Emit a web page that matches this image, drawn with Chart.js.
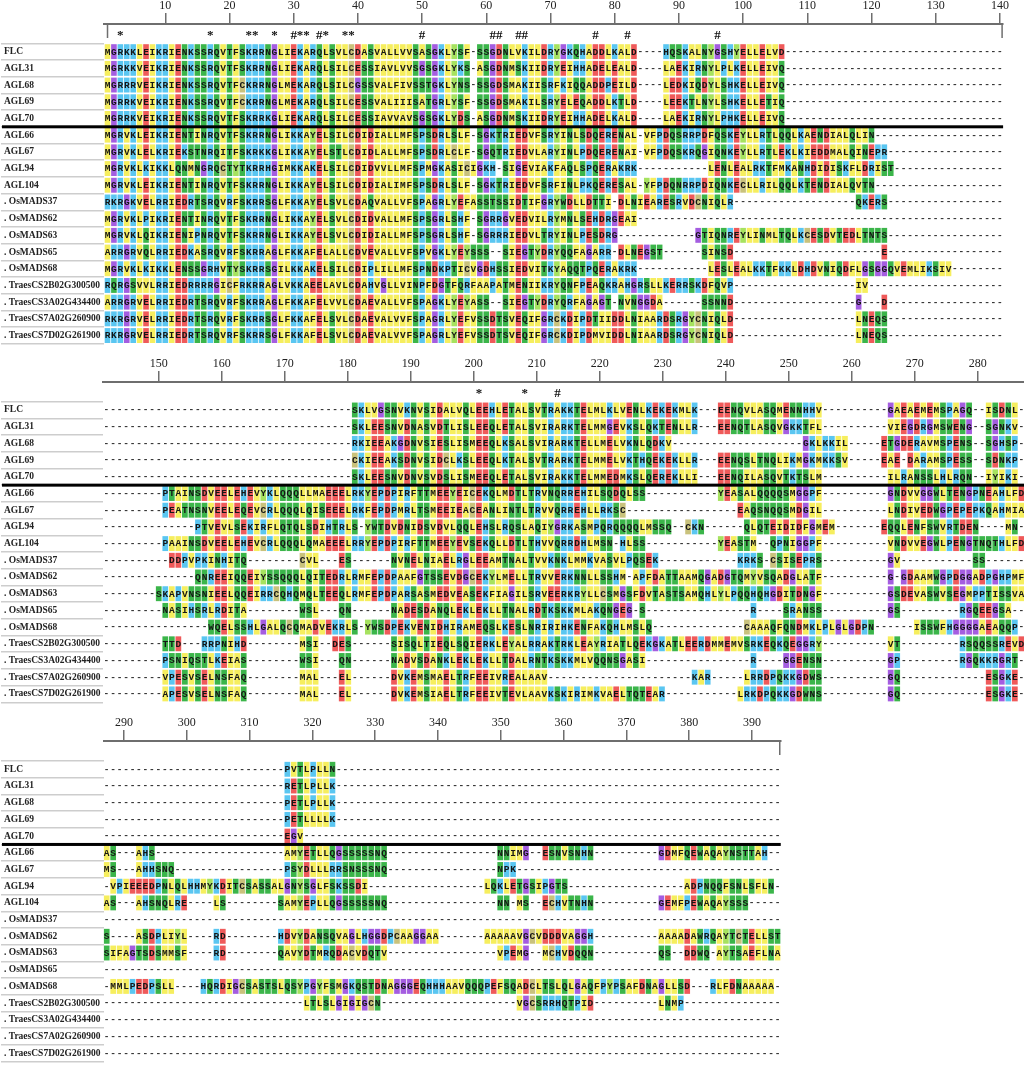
<!DOCTYPE html>
<html>
<head>
<meta charset="utf-8">
<script src="https://cdn.jsdelivr.net/npm/chart.js@4.4.1/dist/chart.umd.min.js"></script>
<style>
html, body { margin: 0; padding: 0; background: #fff; }
#wrap { position: relative; width: 1024px; height: 1065px; overflow: hidden; }
canvas { position: absolute; left: 0; }
</style>
</head>
<body>
<div id="wrap">
  <canvas id="block1" width="1024" height="350" style="top:0px"></canvas>
  <canvas id="block2" width="1024" height="350" style="top:358px"></canvas>
  <canvas id="block3" width="1024" height="348" style="top:717px"></canvas>
</div>
<script>
// sequence names (rows, same order in every block)
var names = ['FLC', 'AGL31', 'AGL68', 'AGL69', 'AGL70', 'AGL66', 'AGL67', 'AGL94', 'AGL104',
    '. OsMADS37', '. OsMADS62', '. OsMADS63', '. OsMADS65', '. OsMADS68',
    '. TraesCS2B02G300500', '. TraesCS3A02G434400', '. TraesCS7A02G260900', '. TraesCS7D02G261900'];

// ruler numbers above each block
var ruler1Ticks = [10, 20, 30, 40, 50, 60, 70, 80, 90, 100, 110, 120, 130, 140];
var ruler2Ticks = [150, 160, 170, 180, 190, 200, 210, 220, 230, 240, 250, 260, 270, 280];
var ruler3Ticks = [290, 300, 310, 320, 330, 340, 350, 360, 370, 380, 390];

// conservation marks: column in block, symbol
var marks1Cols = [2, 16, 22, 23, 26, 29, 30, 31, 33, 34, 37, 38, 49, 60, 61, 64, 65, 76, 81, 95];
var marks1Syms = ['*', '*', '*', '*', '*', '#', '*', '*', '#', '*', '*', '*', '#', '#', '#', '#', '#', '#', '#', '#'];
var marks2Cols = [57, 64, 69];
var marks2Syms = ['*', '*', '#'];
var marks3Cols = [];
var marks3Syms = [];

// aligned residues: [first column in block, residues]; every other column is a gap
var block1Rows = [
    [[0, 'MGRKKLEIKRIENKSSRQVTFSKRRNGLIEKARQLSVLCDASVALLVVSASGKLYSF-SSGDNLVKILDRYGKQHADDLKALD'], [87, 'HQSKALNYGSHYELLELVD']],
    [[0, 'MGRKKVEIKRIENKSSRQVTFSKRRNGLIEKARQLSILCESSIAVLVVSGSGKLYKS-ASGDNMSKIIDRYEIHHADELEALD'], [87, 'LAEKIRNYLPLKELLEIVQ']],
    [[0, 'MGRRRVEIKRIENKSSRQVTFCKRRNGLMEKARQLSILCGSSVALFIVSSTGKLYNS-SSGDSMAKIISRFKIQQADDPEILD'], [87, 'LEDKIQDYLSHKELLEIVQ']],
    [[0, 'MGRRKVEIKRIENKSSRQVTFCKRRNGLMEKARQLSILCESSVALIIISATGRLYSF-SSGDSMAKILSRYELEQADDLKTLD'], [87, 'LEEKTLNYLSHKELLETIQ']],
    [[0, 'MGRRKVEIKRIENKSSRQVTFSKRRKGLIEKARQLSILCESSIAVVAVSGSGKLYDS-ASGDNMSKIIDRYEIHHADELKALD'], [87, 'LAEKIRNYLPHKELLEIVQ']],
    [[0, 'MGRVKLEIKRIENTINRQVTFSKRRNGLIKKAYELSILCDIDIALLMFSPSDRLSLF-SGKTRIEDVFSRYINLSDQERENAL-VFPDQSRRPDFQSKEYLLRTLQQLKAENDIALQLIN']],
    [[0, 'MGRVKLELKRIEKSTNRQITFSKRKKGLIKKAYELSTLCDIDLALLMFSPSDRLCLF-SGQTRIEDVLARYINLPDQERENAI-VFPDQSKRQGIQNKEYLLRTLEKLKIEDDMALQINEPR']],
    [[0, 'MGRVKLKIKKLQNMNGRQCTYTKRRHGIMKKAKELSILCDIDVVLLMFSPMGKASICIGKH-SIGEVIAKFAQLSPQERAKRK'], [94, 'LENLEALRKTFMKANHDIDISKFLDRIST']],
    [[0, 'MGRVKLEIKRIENTINRQVTFSKRRNGLIKKAYELSILCDIDIALIMFSPSDRLSLF-SGKTRIEDVFSRFINLPKQERESAL-YFPDQNRRPDIQNKECLLRILQQLKTENDIALQVTN']],
    [[0, 'RKRGKVELRRIEDRTSRQVRFSKRRSGLFKKAYELSVLCDAQVALLVFSPAGRLYEFASSTSSIDTIFGRYWDLLDTTI-DLNIEARESRVDCNIQLR'], [117, 'QKERS']],
    [[0, 'MGRVKLPIKRIENTINRQVTFSKRRNGLIKKAYELSVLCDIDVALLMFSPSGRLSHF-SGRRGVEDVILRYMNLSEHDRGEAI']],
    [[0, 'MGRVKLQIKRIENIPNRQVTFSKRRNGLIKKAYELSVLCDIDIALLMFSPSGRLSHF-SGRRRIEDVLTRYINLPESDRG'], [92, 'GTIQNREYLINMLTQLKCESDVTEDLTNTS']],
    [[0, 'ARRGRVQLRRIEDKASRQVRFSKRRAGLFKKAFELALLCDVEVALLVFSPVGKLYEYSSS--SIEGTYDRYQQFAGARR-DLNEGST'], [93, 'SINSD'], [121, 'E']],
    [[0, 'MGRVKLKIKKLENSSGRHVTYSKRRSGILKKAKELSILCDIPLILLMFSPNDKPTICVGDHSSIEDVITKYAQQTPQERAKRK'], [94, 'LESLEALKKTFKKLDHDVNIQDFLGSGGQVEMLIKSIV']],
    [[0, 'RQRGSVVLRRIEDRRRRGICFRKRRAGLVKKAEELAVLCDAHVGLLVINPFDGTFQRFAAPATMENIIKRYQNFPEAQKRAHGRSLLKERRSKDFQVP'], [117, 'IV']],
    [[0, 'ARRGRVELRRIEDRTSRQVRFSKRRAGLFKKAFELVVLCDAEVALLVFSPAGKLYEYASS--SIEGTYDRYQRFAGAGT-NVNGGDA'], [93, 'SSNND'], [117, 'G---D']],
    [[0, 'RKRGRVELRRIEDRTSRQVRFSKRRSGLFKKAFELSVLCDAEVALVVFSPAGRLYEFVSSDTSVEQIFGRCKDIPDTIIDDLNIAARDSRGYCNIQLD'], [117, 'LNEQS']],
    [[0, 'RKRGRVELRRIEDRTSRQVRFSKRRSGLFKKAFELSVLCDAEVALVVFSPAGRLYEFVSSDTSVEQIFGRCKDIPDMVIDDLNIAARDSRGYCNIQLD'], [117, 'LNEQS']]
];

var block2Rows = [
    [[38, 'SKLVGSNVKNVSIDALVQLEEHLETALSVTRAKKTELMLKLVENLKEKEKMLK'], [94, 'EENQVLASQMENNHHV'], [120, 'GAEAEMEMSPAGQ--ISDNL']],
    [[38, 'SKLEESNVDNASVDTLISLEEQLETALSVIRARKTELMMGEVKSLQKTENLLR'], [94, 'EENQTLASQVGKKTFL'], [120, 'VIEGDRGMSWENG--SGNKV']],
    [[38, 'RKIEEAKGDNVSIESLISMEEQLKSALSVIRARKTELLMELVKNLQDKV'], [107, 'GKLKKIL'], [119, 'ETGDERAVMSPENS--SGHSP']],
    [[38, 'CKIEEAKSDNVSIDCLKSLEEQLKTALSVTRARKTELMMELVKTHQEKEKLLR'], [94, 'EENQSLTNQLIKMGKMKKSV'], [119, 'EAE-DARAMSPESS--SDNKP']],
    [[38, 'SKLEESNVDNVSVDSLISMEEQLETALSVIRAKKTELMMEDMKSLQEREKLLI'], [94, 'EENQILASQVTKTSLM'], [120, 'ILRANSSLHLRQN--IYIKI']],
    [[9, 'PTAINSDVEELEHEVYKLQQQLLMAEEELRKYEPDPIRFTTMEEYEICEKQLMDTLTRVNQRREHILSQDQLSS'], [94, 'YEASALQQQQSMGGPF'], [120, 'GNDVVGGWLTENGPNEAHLFD']],
    [[9, 'PEATNSNVEELEQEVCRLQQQLQISEEELRKFEPDPMRLTSMEEIEACEANLINTLTRVVQRREHLLRKSC'], [97, 'EAQSNQQSMDGIL'], [120, 'LNDIVEDWGPEPEPKQAHMIA']],
    [[14, 'PTVEVLSEKIRFLQTQLSDIHTRLS-YWTDVDNIDSVDVLQQLEHSLRQSLAQIYGRKASMPQRQQQQLMSSQ--CKN'], [98, 'QLQTEIDIDFGMEM'], [119, 'EQQLENFSWVRTDEN----MN']],
    [[9, 'PAAINSDVEELEHEVCRLQQQLQMAEEELRRYEPDPIRFTTMEEYEVSEKQLLDTLTHVVQRRDHLMSN-HLSS'], [94, 'YEASTM--QPNIGGPF'], [120, 'VNDVVEGWLPENGTNQTHLFD']],
    [[10, 'DDPVPKINHITQ'], [30, 'CVL'], [36, 'ES'], [44, 'NVNELNIAELRGLEEAMTNALTVVKNKLMMKVASVLPQSEK'], [97, 'KRKS-CSISEPRS'], [120, 'GV'], [133, 'SS']],
    [[14, 'QNREEIQQEIYSSQQQLQITEDRLRMFEPDPAAFGTSSEVDGCEKYLMELLTRVVERKNNLLSSHM-APFDATTAAMQGADGTQMYVSQADGLATF'], [120, 'G-GDAAMWGPDGGADPGHPMF']],
    [[8, 'SKAPVNSNIEELQQEIRRCQHQMQLTEEQLRMFEPDPARSASMEDVEASEKFIAGILSRVEERKRYLLCSMGSFDVTASTSAMQHLYLPQQHQHGDITDNGF'], [120, 'GSDEVASWVSEGMPPTISSVA']],
    [[9, 'NASIHSRLRDITA'], [30, 'WSL'], [36, 'QN'], [44, 'NADESDANQLEKLEKLLTNALRDTKSKKMLAKQNGEG-S'], [99, 'R'], [104, 'SRANSS'], [120, 'GS'], [131, 'RGQEEGSA']],
    [[16, 'WQELSSHLGALQCQMADVEKRLS-YWSDPEKVENIDHIRAMEQSLKESLNRIRIHKENFAKQHLMSLQ'], [98, 'CAAAQFQNDMKLPLGLGDPN'], [124, 'ISSWFHGGGGAEAQQP']],
    [[9, 'TTD'], [15, 'RRPNIHD'], [30, 'MSI'], [35, 'DES'], [44, 'SISQLTIEQLSQIERKLEYALRRAKTRKLEAYRIATLQEKGKATLEERDMMEMVSRKEQKQEGGRY'], [120, 'VT'], [131, 'RSQQSSREVD']],
    [[9, 'PSNIQSTLKEIAS'], [30, 'WSI'], [36, 'QN'], [44, 'NADVSDANKLEKLEKLLTDALRNTKSKKMLVQQNSGASI'], [99, 'R'], [104, 'GGENSN'], [120, 'GP'], [131, 'RGQKKRGRT']],
    [[9, 'VPESVSELNSFAQ'], [30, 'MAL'], [36, 'EL'], [44, 'DVKEMSMAELTRFEEIVREALAAV'], [90, 'KAR'], [98, 'LRRDPQKKGDWS'], [120, 'GQ'], [135, 'ESGKE']],
    [[9, 'APESVSELNSFAQ'], [30, 'MAL'], [36, 'EL'], [44, 'DVKEMSIAELTRFEEIVTEVLAAVKSKIRIMKVAELTQTEAR'], [97, 'LRKDPQKKGDWNS'], [120, 'GQ'], [135, 'ESGKE']]
];

var block3Rows = [
    [[28, 'PVTLPLLN']],
    [[28, 'RETLPLLK']],
    [[28, 'PETLPLLK']],
    [[28, 'PETLLLLK']],
    [[28, 'EGV']],
    [[0, 'AS---AHS'], [28, 'AMYETLLQGSSSSSNQ'], [61, 'NNIMG--ESNVSNHN'], [86, 'GDMFQEWAQAYNSTTAH']],
    [[0, 'MS---AHHSNQ'], [28, 'PSYDLLLRRSNSSSNQ'], [61, 'NPK']],
    [[1, 'VPIEEEDPNLQLHHMYKDITCSASSALGNYSGLFSKSSDI'], [59, 'LQKLETGSIPGTS'], [90, 'ADPNQQFSNLSFLN']],
    [[0, 'AS---AHSNQLRE'], [17, 'LS'], [27, 'SAMYEPLLQGSSSSSNQ'], [61, 'NN-MS--ECHVTNHN'], [86, 'GEMFPEWAQAYSSS']],
    [],
    [[0, 'S----ASDPLIYL'], [17, 'RD'], [27, 'HDVYDANSQVAGLHGGDPCAAGGAA'], [59, 'AAAAAVGCVDDDVAGGH'], [86, 'AAAADAWRQAYTCTELLST']],
    [[0, 'SIFAGTSDSMMSF'], [17, 'RD'], [27, 'QAVYDTMRQDACVDQTV'], [61, 'VPEMG--MCHVDQQN'], [86, 'QS--DDWQ-AYTSAEFLNA']],
    [],
    [[1, 'MMLPEDPSLL'], [15, 'HQRDIGCSASTSLQSYPGYFSMGKQSTDNAGGGEQHHHAAVQQQPEFSQADCLTSLQLGAQFPYPSAFDNAGLLSD'], [94, 'RLFDNAAAAA']],
    [[31, 'LTLSLGIGIGCN'], [64, 'VGCSRRHQTPID'], [86, 'LNMP']],
    [],
    [],
    []
];

// residue colour scheme
var residueColors = {
    A: '#F6EE5E', V: '#F6EE5E', L: '#F6EE5E', I: '#F6EE5E', M: '#F6EE5E', F: '#F6EE5E',
    G: '#A45DE0',
    R: '#5AC6F1', K: '#5AC6F1', H: '#5AC6F1', P: '#5AC6F1',
    D: '#EF5A5A', E: '#EF5A5A',
    N: '#3BB54A', S: '#3BB54A', Q: '#3BB54A', T: '#3BB54A', W: '#3BB54A',
    Y: '#A6E25F',
    C: '#C9C27C'
};

function expandRow(segments, width) {
    var cells = [];
    for (var i = 0; i < width; i++) cells.push('-');
    segments.forEach(function (seg) {
        for (var k = 0; k < seg[1].length; k++) {
            if (seg[0] + k < width) cells[seg[0] + k] = seg[1][k];
        }
    });
    return cells;
}

var alignmentPlugin = {
    id: 'alignment',
    afterDatasetsDraw: function (chart, args, opts) {
        var ctx = chart.ctx;
        var x = chart.scales.x, y = chart.scales.y, ruler = chart.scales.ruler;
        var area = chart.chartArea;
        var cw = Math.abs(x.getPixelForValue(1) - x.getPixelForValue(0));
        var rh = Math.abs(y.getPixelForValue(1) - y.getPixelForValue(0));
        ctx.save();
        ctx.font = 'bold 9.5px "Liberation Mono"';
        ctx.textAlign = 'center';
        ctx.textBaseline = 'middle';
        opts.rows.forEach(function (segments, r) {
            var cells = expandRow(segments, opts.columns);
            var cy = y.getPixelForValue(r);
            cells.forEach(function (ch, i) {
                var cx = x.getPixelForValue(i);
                if (ch === '-') {
                    ctx.fillStyle = '#333';
                    ctx.fillText('-', cx, cy);
                    return;
                }
                ctx.fillStyle = residueColors[ch] || '#fff';
                ctx.fillRect(cx - cw / 2 + 0.4, cy - rh / 2 + 0.9, cw - 0.8, rh - 1.8);
                ctx.fillStyle = '#151515';
                ctx.fillText(ch, cx, cy + 0.5);
            });
        });
        // heavy rule between the Arabidopsis FLC clade and the rest
        var yLine = (y.getPixelForValue(4) + y.getPixelForValue(5)) / 2;
        ctx.fillStyle = '#000';
        ctx.fillRect(2, yLine - 1.5, area.right - 2, 3);
        // bracket ends of the ruler
        ctx.strokeStyle = '#6e6e6e';
        ctx.lineWidth = 1.5;
        opts.endTicks.forEach(function (side) {
            var ex = side === 'left' ? x.getPixelForValue(0) : area.right - 1;
            ctx.beginPath();
            ctx.moveTo(ex, ruler.bottom);
            ctx.lineTo(ex, ruler.bottom + 14);
            ctx.stroke();
        });
        ctx.restore();
    }
};

function makeBlock(cfg) {
    var symbolAt = {};
    cfg.markCols.forEach(function (c, i) { symbolAt[c] = cfg.markSyms[i]; });
    return new Chart(document.getElementById(cfg.canvas), {
        type: 'scatter',
        data: { datasets: [] },
        options: {
            responsive: false,
            animation: false,
            events: [],
            layout: { padding: { left: 4, right: cfg.padRight, top: 0, bottom: cfg.padBottom } },
            plugins: {
                legend: { display: false },
                tooltip: { enabled: false },
                alignment: { rows: cfg.rows, columns: cfg.columns, endTicks: cfg.endTicks }
            },
            scales: {
                x: { type: 'linear', display: false, min: -0.5, max: cfg.xMax },
                ruler: {
                    type: 'linear', axis: 'x', position: 'top', weight: 2,
                    min: cfg.rulerMin, max: cfg.rulerMax,
                    afterBuildTicks: function (ax) { ax.ticks = cfg.rulerTicks.map(function (v) { return { value: v }; }); },
                    afterFit: function (ax) { ax.height = 24; ax.paddingLeft = 0; ax.paddingRight = 0; },
                    grid: { drawOnChartArea: false, drawTicks: true, tickLength: 11, color: '#6e6e6e', lineWidth: 1.5 },
                    border: { display: true, color: '#6e6e6e', width: 2 },
                    ticks: {
                        padding: 0, autoSkip: false, maxRotation: 0, color: '#222',
                        font: { family: 'Liberation Serif', size: 12 },
                        callback: function (v) { return String(v); }
                    }
                },
                marks: {
                    type: 'linear', axis: 'x', position: 'top', weight: 1,
                    min: -0.5, max: cfg.xMax,
                    afterBuildTicks: function (ax) { ax.ticks = cfg.markCols.map(function (v) { return { value: v }; }); },
                    afterFit: function (ax) { ax.height = cfg.markHeight; ax.paddingLeft = 0; ax.paddingRight = 0; },
                    grid: { display: false, drawTicks: false },
                    border: { display: false },
                    ticks: {
                        padding: 0, autoSkip: false, maxRotation: 0, color: '#111',
                        font: { family: 'Liberation Serif', size: 13, weight: 'bold' },
                        callback: function (v) { return symbolAt[v] || ''; }
                    }
                },
                y: {
                    type: 'category', labels: names, position: 'left', offset: true,
                    afterFit: function (ax) { ax.width = cfg.left - 4; ax.paddingTop = 0; ax.paddingBottom = 0; },
                    grid: { offset: true, drawOnChartArea: false, tickLength: cfg.left - 1, color: '#cdcdcd', lineWidth: 1.5 },
                    border: { display: false },
                    ticks: {
                        crossAlign: 'far', autoSkip: false, padding: 0, color: '#222',
                        font: { family: 'Liberation Serif', size: 9.5, weight: 'bold' }
                    }
                }
            }
        },
        plugins: [alignmentPlugin]
    });
}

makeBlock({
    canvas: 'block1', rows: block1Rows, columns: 140, xMax: 139.5, left: 104.3,
    padRight: 20.9, padBottom: 6.1, markHeight: 19.3,
    rulerMin: 0.5, rulerMax: 140.5, rulerTicks: ruler1Ticks,
    markCols: marks1Cols, markSyms: marks1Syms, endTicks: ['left', 'right']
});
makeBlock({
    canvas: 'block2', rows: block2Rows, columns: 141, xMax: 140.4, left: 103.2,
    padRight: 0, padBottom: 5.75, markHeight: 19.65,
    rulerMin: 141.19, rulerMax: 287.35, rulerTicks: ruler2Ticks,
    markCols: marks2Cols, markSyms: marks2Syms, endTicks: []
});
makeBlock({
    canvas: 'block3', rows: block3Rows, columns: 105, xMax: 104.5, left: 103.5,
    padRight: 243.25, padBottom: 3.45, markHeight: 19.95,
    rulerMin: 286.74, rulerMax: 394.58, rulerTicks: ruler3Ticks,
    markCols: marks3Cols, markSyms: marks3Syms, endTicks: ['right']
});
</script>
</body>
</html>
